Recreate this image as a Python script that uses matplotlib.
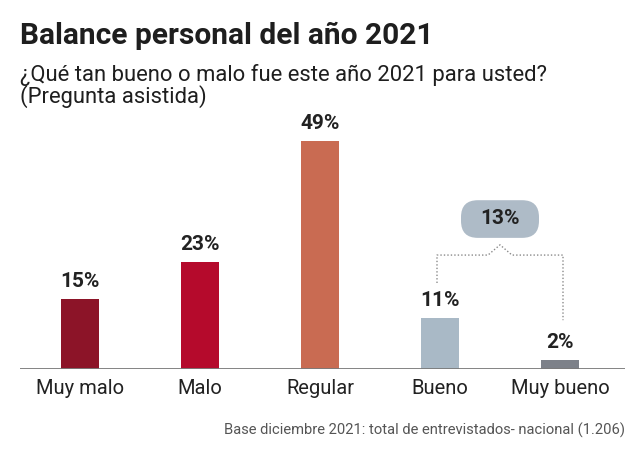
import matplotlib
matplotlib.use("Agg")
import matplotlib.pyplot as plt
from matplotlib.patches import FancyBboxPatch

categories = ["Muy malo", "Malo", "Regular", "Bueno", "Muy bueno"]
values = [15, 23, 49, 11, 2]
value_labels = ["15%", "23%", "49%", "11%", "2%"]
colors = ["#8C1428", "#B50A2C", "#C96B52", "#A9B9C6", "#7D8189"]
group_label = "13%"

title = "Balance personal del año 2021"
subtitle = "¿Qué tan bueno o malo fue este año 2021 para usted?\n(Pregunta asistida)"
footnote = "Base diciembre 2021: total de entrevistados- nacional (1.206)"

W, H = 640, 457
fig = plt.figure(figsize=(W / 100, H / 100), dpi=100)
plt.rcParams['font.family'] = ['Roboto', 'DejaVu Sans']

# axes in pixel layout
ax_left, ax_right, ax_bottom, ax_top = 20, 625, 369, 110
ax = fig.add_axes([ax_left / W, 1 - ax_bottom / H, (ax_right - ax_left) / W, (ax_bottom - ax_top) / H])
ppu = 4.65
ax.set_ylim(0, (ax_bottom - ax_top) / ppu)
ax.set_xlim(-0.5, (ax_right - 80) / 120)
ax.axis('off')

x = list(range(len(categories)))
ax.bar(x, values, width=0.31, color=colors, zorder=2)
ax.axhline(0, color="#7a7a7a", lw=1.3, zorder=3)
for xi, v, lab in zip(x, values, value_labels):
    ax.text(xi, v + 1.7, lab, ha='center', va='bottom', fontsize=15, fontweight='bold', color="#222222")
for xi, c in zip(x, categories):
    ax.text(xi, -2.2, c, ha='center', va='top', fontsize=14.5, color="#222222")

# bracket for Bueno + Muy bueno
bx0, bx1 = 3 - 0.025, 4 + 0.025
yh, ypk = 24.5, 26.7
xm = (bx0 + bx1) / 2
ax.plot([bx0, bx0, xm - 0.1, xm, xm + 0.1, bx1, bx1],
        [18.5, yh, yh, ypk, yh, yh, 10.5],
        color="#8a8a8a", lw=1.0, ls=(0, (1, 1.5)), zorder=1)
box = FancyBboxPatch((xm - 0.325, 28.2), 0.65, 8.1,
                     boxstyle="round,pad=0,rounding_size=0.14",
                     mutation_aspect=26, fc="#AEBBC7", ec="none", zorder=2)
ax.add_patch(box)
ax.text(xm, 32.3, group_label, ha='center', va='center', fontsize=15, fontweight='bold', color="#222222")

fig.text(20 / W, 1 - 36 / H, title, ha='left', va='center', fontsize=21.5, fontweight='bold', color="#1e1e1e")
fig.text(20 / W, 1 - 86 / H, subtitle, ha='left', va='center', fontsize=15.8, color="#1e1e1e", linespacing=1.0)
fig.text(625 / W, 1 - 430 / H, footnote, ha='right', va='center', fontsize=10.6, color="#555555")

fig.savefig("out.png", dpi=100, facecolor="white")
